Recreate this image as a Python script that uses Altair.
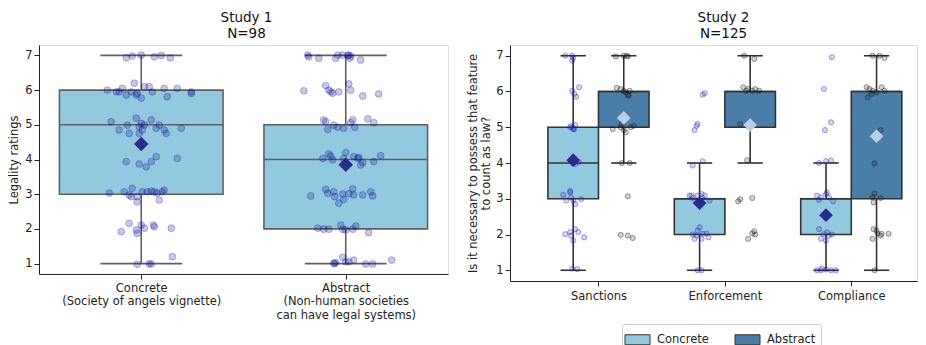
import altair as alt
import pandas as pd

FONT = "DejaVu Sans"

# ---------------- Study 1 ----------------
s1_n = 98
s1_labels = [["Concrete", "(Society of angels vignette)"],
             ["Abstract", "(Non-human societies", "can have legal systems)"]]
s1_low = [1, 1]
s1_q1 = [3, 2]
s1_median = [5, 4]
s1_q3 = [6, 5]
s1_high = [7, 7]
s1_mean = [4.45, 3.85]

s1_concrete_vals = [6.93, 6.98, 7.01, 6.96, 7.0, 6.93,
                    6.0, 5.95, 5.95, 6.05, 5.86, 5.95, 6.2, 5.86, 5.91, 5.77, 6.1, 6.1, 5.95, 6.05, 5.81, 6.05, 5.95, 5.9,
                    5.09, 4.85, 4.99, 4.75, 5.19, 4.95, 5.04, 4.85, 4.99, 5.14, 4.9, 4.99, 4.85, 4.75, 4.9, 4.75,
                    3.94, 3.87, 3.79, 3.94, 4.08, 4.03,
                    3.03, 3.07, 2.98, 3.17, 2.93, 3.07, 3.07, 3.09, 3.07, 3.03, 3.07, 3.12, 2.83, 2.78, 2.93,
                    1.92, 2.16, 1.97, 1.87, 2.11, 2.02, 2.11, 2.06, 2.02,
                    0.98, 0.99, 0.99, 1.2]
s1_concrete_jit = [-0.073, -0.044, 0.0, 0.064, 0.098, 0.142,
                   -0.166, -0.122, -0.108, -0.093, -0.073, -0.049, -0.034, -0.024, -0.02, 0.0, 0.015, 0.039, 0.054, 0.112, 0.127, 0.176, 0.245, 0.245,
                   -0.147, -0.108, -0.068, -0.059, -0.024, -0.01, 0.0, 0.005, 0.015, 0.049, 0.073, 0.088, 0.112, 0.122, 0.196, -0.01,
                   -0.073, -0.01, 0.024, 0.049, 0.073, 0.176,
                   -0.156, -0.083, -0.059, -0.044, -0.02, 0.005, 0.029, 0.049, 0.064, 0.078, 0.103, 0.112, 0.088, -0.02, -0.049,
                   -0.098, -0.059, -0.024, -0.02, 0.0, 0.015, 0.059, 0.064, 0.147,
                   -0.02, 0.039, 0.049, 0.152]
s1_abstract_vals = [7.01, 6.96, 6.92, 6.92, 7.01, 7.01, 7.01, 6.92, 6.87, 7.0, 6.98,
                    5.98, 6.13, 6.0, 5.95, 5.91, 5.95, 6.18, 6.0, 5.83, 5.89,
                    5.14, 5.09, 4.87, 4.99, 4.93, 4.9, 5.06, 5.14, 4.93, 5.17, 5.06,
                    4.03, 4.16, 4.1, 3.99, 4.2, 4.08, 4.03, 4.06, 3.84, 3.91, 3.94, 4.11, 4.03,
                    2.95, 3.14, 3.03, 3.07, 2.93, 2.74, 3.01, 2.85, 3.15, 2.98, 2.98, 3.07, 2.95, 3.01,
                    2.02, 1.99, 1.99, 2.11, 1.99, 1.97, 1.99, 2.08, 1.89,
                    1.01, 1.03, 1.18, 1.05, 1.05, 1.1, 0.99, 0.99, 1.1, 1.0]
s1_abstract_jit = [-0.186, -0.181, -0.132, -0.049, -0.039, -0.015, 0.015, 0.02, 0.073, 0.01, 0.024,
                   -0.205, -0.098, -0.083, -0.073, -0.064, -0.034, 0.015, 0.024, 0.083, 0.161,
                   -0.108, -0.098, -0.088, -0.059, -0.039, -0.01, 0.024, 0.034, 0.044, 0.108, 0.137,
                   -0.112, -0.083, -0.073, -0.064, 0.0, 0.039, 0.059, 0.064, 0.073, 0.083, 0.137, 0.171, -0.01,
                   -0.171, -0.098, -0.088, -0.059, -0.054, -0.034, -0.015, -0.01, 0.034, 0.039, 0.083, 0.122, 0.132, 0.015,
                   -0.137, -0.108, -0.083, -0.024, -0.015, 0.0, 0.034, 0.049, 0.112,
                   -0.059, -0.049, -0.015, 0.0, 0.015, 0.039, 0.098, 0.132, 0.225, -0.054]

# ---------------- Study 2 ----------------
s2_n = 125
s2_features = ["Sanctions", "Enforcement", "Compliance"]
s2_conditions = ["Concrete", "Abstract"]
s2_low = {"Concrete": [1, 1, 1], "Abstract": [4, 4, 1]}
s2_q1 = {"Concrete": [3, 2, 2], "Abstract": [5, 5, 3]}
s2_median = {"Concrete": [4, 3, 3], "Abstract": [6, 6, 6]}
s2_q3 = {"Concrete": [5, 3, 3], "Abstract": [6, 6, 6]}
s2_high = {"Concrete": [7, 4, 4], "Abstract": [7, 7, 7]}
s2_mean = {"Concrete": [4.08, 2.88, 2.54], "Abstract": [5.26, 5.06, 4.75]}

s2_vals = {
    ("Sanctions", "Concrete"): [7.0, 7.0, 6.94, 6.86, 6.02, 5.93, 5.85, 6.12, 5.03, 4.98, 5.06, 4.95, 5.0, 4.94,
                                4.0, 3.97, 4.05, 4.03, 3.11, 2.95, 3.18, 3.04, 2.95, 2.85, 2.99, 3.22,
                                2.01, 2.07, 1.97, 2.15, 1.83, 2.07, 1.92, 1.05, 1.03],
    ("Sanctions", "Abstract"): [6.98, 7.0, 7.0, 6.98, 6.1, 6.07, 6.02, 5.98, 5.91, 6.02, 5.88,
                                4.95, 5.0, 4.92, 4.86, 5.0, 5.04, 5.09, 4.0, 4.0, 3.07, 1.99, 1.97, 1.9],
    ("Enforcement", "Concrete"): [5.91, 5.95, 4.92, 5.04, 5.09, 3.93, 4.05,
                                  3.09, 3.02, 3.09, 3.13, 3.02, 2.95, 3.09, 3.09,
                                  1.88, 2.11, 2.2, 1.88, 2.02, 1.92, 2.0, 1.97, 2.03, 1.0, 1.0],
    ("Enforcement", "Abstract"): [7.0, 6.91, 6.12, 6.07, 6.02, 6.07, 6.02, 6.02, 5.09, 5.04, 4.08,
                                  2.93, 2.99, 3.02, 1.88, 2.09, 2.0, 2.03],
    ("Compliance", "Concrete"): [6.96, 6.07, 4.92, 5.14, 4.0, 4.05, 4.07,
                                 3.09, 3.04, 3.13, 3.18, 2.97, 2.93, 3.04,
                                 2.15, 2.01, 2.06, 1.97, 2.0, 1.88, 1.83,
                                 1.0, 1.05, 1.02, 1.0, 1.0, 1.0],
    ("Compliance", "Abstract"): [7.0, 7.0, 6.94, 6.12, 6.07, 6.02, 5.98, 6.12, 6.02, 5.84, 5.93,
                                 4.92, 3.99, 3.15, 2.9, 3.02, 3.04,
                                 2.15, 2.11, 1.97, 2.02, 2.02, 1.88, 2.03, 1.0],
}
s2_jit = {
    ("Sanctions", "Concrete"): [-0.063, -0.008, 0.0, -0.008, -0.008, 0.008, 0.024, 0.047, -0.016, 0.0, 0.016, 0.0, -0.024, 0.008,
                                0.0, 0.016, -0.008, 0.044, -0.079, -0.055, -0.024, -0.016, 0.0, 0.016, 0.063, -0.024,
                                -0.063, -0.024, -0.016, 0.016, 0.0, 0.04, 0.087, -0.008, 0.032],
    ("Sanctions", "Abstract"): [-0.063, 0.0, 0.024, 0.032, -0.055, -0.024, 0.0, 0.016, 0.032, 0.047, 0.04,
                                -0.087, -0.024, 0.0, 0.016, 0.055, 0.079, -0.016, -0.016, 0.047, 0.032, -0.024, 0.032, 0.071],
    ("Enforcement", "Concrete"): [0.024, 0.04, -0.04, -0.024, -0.016, -0.055, 0.024,
                                  -0.079, -0.055, -0.016, 0.016, 0.024, 0.079, 0.04, -0.063,
                                  -0.04, -0.016, 0.0, 0.016, 0.024, 0.071, -0.055, -0.024, 0.055, -0.016, 0.016],
    ("Enforcement", "Abstract"): [-0.047, 0.032, -0.055, -0.016, 0.016, 0.04, 0.071, -0.032, -0.079, -0.024, -0.024,
                                  -0.095, -0.079, 0.016, -0.016, 0.032, 0.04, 0.016],
    ("Compliance", "Concrete"): [0.047, -0.016, -0.008, 0.04, -0.055, 0.0, 0.04,
                                 -0.071, -0.04, 0.0, 0.008, -0.055, 0.055, 0.024,
                                 -0.055, -0.016, 0.008, 0.024, 0.047, -0.04, 0.0,
                                 -0.071, -0.032, 0.0, 0.04, 0.079, -0.04],
    ("Compliance", "Abstract"): [-0.032, 0.024, 0.063, -0.079, -0.055, -0.032, 0.0, 0.04, 0.063, -0.071, -0.04,
                                 0.032, -0.016, -0.016, -0.024, 0.032, -0.032,
                                 -0.024, 0.0, 0.032, 0.04, 0.095, -0.032, 0.008, -0.016],
}

# ---------------- colours ----------------
C_CONCRETE = "#92C9DE"
C_ABSTRACT = "#4A7EA8"
BOX_EDGE_1 = "#606060"
BOX_EDGE_2 = "#333333"
PT1 = "#00008B"
PT2_CONC = "#2020B0"
PT2_ABS = "#111111"
MEAN_CONC = "#2B2B8A"
MEAN_ABS = "#BACDE6"
AX = "#222222"

# ---------------- frames ----------------
box1 = pd.DataFrame({
    "pos": [0, 1],
    "low": s1_low, "q1": s1_q1, "median": s1_median, "q3": s1_q3, "high": s1_high, "mean": s1_mean,
})
box1["x0"] = box1["pos"] - 0.4
box1["x1"] = box1["pos"] + 0.4
box1["c0"] = box1["pos"] - 0.2
box1["c1"] = box1["pos"] + 0.2

pts1 = pd.DataFrame({
    "x": [0 + j for j in s1_concrete_jit] + [1 + j for j in s1_abstract_jit],
    "y": s1_concrete_vals + s1_abstract_vals,
})

rows = []
for fi, f in enumerate(s2_features):
    for c in s2_conditions:
        off = -0.2 if c == "Concrete" else 0.2
        p = fi + off
        rows.append(dict(feature=f, cond=c, pos=p, x0=p - 0.2, x1=p + 0.2, c0=p - 0.1, c1=p + 0.1,
                         low=s2_low[c][fi], q1=s2_q1[c][fi], median=s2_median[c][fi],
                         q3=s2_q3[c][fi], high=s2_high[c][fi], mean=s2_mean[c][fi]))
box2 = pd.DataFrame(rows)

prow = []
for fi, f in enumerate(s2_features):
    for c in s2_conditions:
        off = -0.2 if c == "Concrete" else 0.2
        for v, j in zip(s2_vals[(f, c)], s2_jit[(f, c)]):
            prow.append(dict(cond=c, x=fi + off + j, y=v))
pts2 = pd.DataFrame(prow)

# ---------------- encodings ----------------
s1_label_expr = "[" + ",".join("[" + ",".join("'" + t + "'" for t in lab) + "]" for lab in s1_labels) + "][round(datum.value)]"
s2_label_expr = "[" + ",".join("'" + t + "'" for t in s2_features) + "][round(datum.value)]"

common_axis = dict(grid=False, tickSize=5, labelFontSize=11.5, labelFont=FONT, labelColor=AX,
                   domainColor=AX, tickColor=AX, titleFont=FONT, titleFontSize=11.5,
                   titleFontWeight="normal", titleColor=AX)

x1_axis = alt.Axis(values=[0, 1], labelExpr=s1_label_expr, title=None, labelPadding=3,
                   labelLineHeight=13.5, **common_axis)
y1_axis = alt.Axis(values=[1, 2, 3, 4, 5, 6, 7], format="d", title="Legality ratings",
                   labelPadding=2, titlePadding=5, **common_axis)
x2_axis = alt.Axis(values=[0, 1, 2], labelExpr=s2_label_expr, title=None, labelPadding=4, **common_axis)
y2_axis = alt.Axis(values=[1, 2, 3, 4, 5, 6, 7], format="d",
                   title=["Is it necessary to possess that feature", "to count as law?"],
                   labelPadding=2, titlePadding=4, titleLineHeight=13, **common_axis)

x1_scale = alt.Scale(domain=[-0.5, 1.5], nice=False, zero=False)
y_scale = alt.Scale(domain=[0.7, 7.3], nice=False, zero=False)
x2_scale = alt.Scale(domain=[-0.7, 2.52], nice=False, zero=False)


def X1(f):
    return alt.X(f, type="quantitative", scale=x1_scale, axis=x1_axis)


def Y1(f):
    return alt.Y(f, type="quantitative", scale=y_scale, axis=y1_axis)


def X2(f):
    return alt.X(f, type="quantitative", scale=x2_scale, axis=x2_axis)


def Y2(f):
    return alt.Y(f, type="quantitative", scale=y_scale, axis=y2_axis)


# ---------------- Study 1 panel ----------------
b1 = alt.Chart(box1)
whisk1 = b1.mark_rule(color=BOX_EDGE_1, strokeWidth=1.6).encode(x=X1("pos"), y=Y1("low"), y2="high")
caps_lo1 = b1.mark_rule(color=BOX_EDGE_1, strokeWidth=1.6).encode(x=X1("c0"), x2="c1", y=Y1("low"))
caps_hi1 = b1.mark_rule(color=BOX_EDGE_1, strokeWidth=1.6).encode(x=X1("c0"), x2="c1", y=Y1("high"))
boxes1 = b1.mark_bar(fill=C_CONCRETE, stroke=BOX_EDGE_1, strokeWidth=1.6).encode(
    x=X1("x0"), x2="x1", y=Y1("q1"), y2="q3")
med1 = b1.mark_rule(color=BOX_EDGE_1, strokeWidth=1.6).encode(x=X1("x0"), x2="x1", y=Y1("median"))
points1 = alt.Chart(pts1).mark_point(filled=True, size=46, fill=PT1, fillOpacity=0.22,
                                     stroke=PT1, strokeOpacity=0.25, strokeWidth=1).encode(
    x=X1("x"), y=Y1("y"))
mean1 = b1.mark_point(shape="diamond", filled=True, size=210, color=MEAN_CONC, opacity=1).encode(
    x=X1("pos"), y=Y1("mean"))

title_common = dict(fontSize=13.5, font=FONT, fontWeight="normal", anchor="middle",
                    offset=5, lineHeight=15.5, color="#111111")

panel1 = alt.layer(whisk1, caps_lo1, caps_hi1, boxes1, med1, points1, mean1).properties(
    width=409, height=229,
    title=alt.TitleParams(text=["Study 1", f"N={s1_n}"], dx=3, **title_common))

# ---------------- Study 2 panel ----------------
b2 = alt.Chart(box2)
whisk2 = b2.mark_rule(color=BOX_EDGE_2, strokeWidth=1.6).encode(x=X2("pos"), y=Y2("low"), y2="high")
caps_lo2 = b2.mark_rule(color=BOX_EDGE_2, strokeWidth=1.6).encode(x=X2("c0"), x2="c1", y=Y2("low"))
caps_hi2 = b2.mark_rule(color=BOX_EDGE_2, strokeWidth=1.6).encode(x=X2("c0"), x2="c1", y=Y2("high"))
boxes2 = b2.mark_bar(stroke=BOX_EDGE_2, strokeWidth=1.6, opacity=1).encode(
    x=X2("x0"), x2="x1", y=Y2("q1"), y2="q3",
    color=alt.Color("cond:N", scale=alt.Scale(domain=s2_conditions, range=[C_CONCRETE, C_ABSTRACT]),
                    legend=alt.Legend(orient="none", legendX=112, legendY=279, direction="horizontal",
                                      title=None, symbolType="M-1.25,-0.5h2.5v1h-2.5z", symbolSize=400,
                                      symbolStrokeColor=BOX_EDGE_2, symbolStrokeWidth=1,
                                      symbolOpacity=1,
                                      labelFont=FONT, labelFontSize=11.5, labelColor=AX,
                                      labelOffset=9, columnPadding=24, padding=5,
                                      strokeColor="#cccccc", cornerRadius=3, fillColor="white")))
med2 = b2.mark_rule(color=BOX_EDGE_2, strokeWidth=1.6).encode(x=X2("x0"), x2="x1", y=Y2("median"))
points2 = alt.Chart(pts2).mark_point(filled=True, size=26, fillOpacity=0.18, strokeOpacity=0.4,
                                     strokeWidth=1).encode(
    x=X2("x"), y=Y2("y"),
    fill=alt.Fill("cond:N", scale=alt.Scale(domain=s2_conditions, range=[PT2_CONC, PT2_ABS]), legend=None),
    stroke=alt.Stroke("cond:N", scale=alt.Scale(domain=s2_conditions, range=[PT2_CONC, PT2_ABS]), legend=None))
mean2 = b2.mark_point(shape="diamond", filled=True, size=190, opacity=1).encode(
    x=X2("pos"), y=Y2("mean"),
    fill=alt.Fill("cond:N", scale=alt.Scale(domain=s2_conditions, range=[MEAN_CONC, MEAN_ABS]), legend=None))

panel2 = alt.layer(whisk2, caps_lo2, caps_hi2, boxes2, med2, points2, mean2).resolve_scale(
    fill="independent", stroke="independent").properties(
    width=407, height=236,
    title=alt.TitleParams(text=["Study 2", f"N={s2_n}"], dx=10, **title_common))

chart = alt.hconcat(panel1, panel2, spacing=18).resolve_legend(color="independent").properties(
    padding={"left": 0, "top": 2, "right": 0, "bottom": 0}
).configure_view(stroke=None).configure(font=FONT, background="white")

chart.save("out.html", embed_options={"renderer": "svg", "actions": False})
